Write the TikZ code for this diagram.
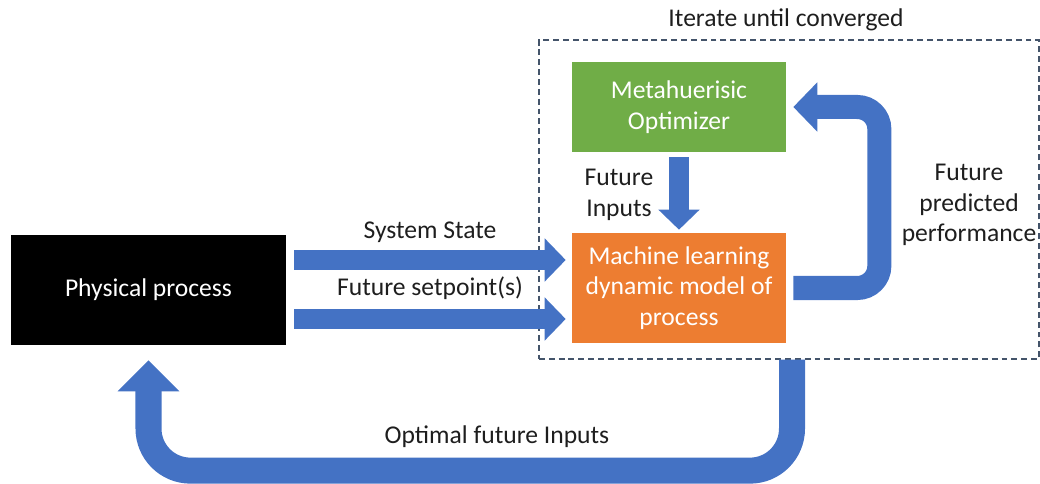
\documentclass[tikz,border=0pt]{standalone}
\usepackage{fontspec}
\setmainfont{Carlito}
\usetikzlibrary{arrows.meta}
\definecolor{officeblue}{HTML}{4472C4}
\definecolor{officegreen}{HTML}{70AD47}
\definecolor{officeorange}{HTML}{ED7D31}
\definecolor{dashblue}{HTML}{44546A}
\definecolor{textgray}{HTML}{1E1E1E}
\begin{document}
\begin{tikzpicture}
[
x=0.025cm, y=-0.025cm,
font=\fontsize{18.2}{21.6}\selectfont,
blackbox/.style={rectangle, fill=black, text=white, minimum width=6.875cm, minimum height=2.75cm, inner sep=0},
greenbox/.style={rectangle, fill=officegreen, text=white, minimum width=5.35cm, minimum height=2.25cm, inner sep=0, align=center},
orangebox/.style={rectangle, fill=officeorange, text=white, minimum width=5.35cm, minimum height=2.75cm, inner sep=0, align=center},
iteratebox/.style={rectangle, draw=dashblue, line width=0.85pt, dash pattern=on 4.2pt off 2.8pt, minimum width=12.5cm, minimum height=7.975cm, inner sep=0},
flowlabel/.style={text=textgray, align=center, inner sep=0},
bluearrow/.style={draw=officeblue, line width=0.5cm, -{Triangle[width=1.05cm, length=0.525cm]}}
]
\useasboundingbox (0,0) rectangle (1040,484);
%Nodes
\node[blackbox] at(148.5,290)	(phys) {Physical process};
\node[greenbox] at(679,107)	(opt) {Metahuerisic\\Optimizer};
\node[orangebox] at(679,288)	(model) {Machine learning\\dynamic model of\\process};
\node[iteratebox] at(789,199.5)	(loop) {};
\node[flowlabel]	(iter) at(786,20) {Iterate until converged};
\node[flowlabel]	(state) at(430,232) {System State};
\node[flowlabel]	(setp) at(430,288) {Future setpoint(s)};
\node[flowlabel]	(fin) at(619,195) {Future\\Inputs};
\node[flowlabel]	(perf) at(969,205) {Future\\predicted\\performance};
\node[flowlabel]	(optin) at(497,437) {Optimal future Inputs};
%Arrows
\coordinate (statein) at ([yshift=0.75cm]phys.east);
\coordinate (setpin) at ([yshift=-0.725cm]phys.east);
\coordinate (perfturn) at ([xshift=2.325cm]opt.east);
\draw[bluearrow, shorten <=0.2cm, shorten >=0.15cm] (statein) -- (statein -| model.west);
\draw[bluearrow, shorten <=0.2cm, shorten >=0.15cm] (setpin) -- (setpin -| model.west);
\draw[bluearrow, -{Triangle[width=1.0cm, length=0.5cm]}, shorten <=0.125cm, shorten >=0.075cm] (opt.south) -- (model.north);
\draw[bluearrow, line width=0.6cm, -{Triangle[width=1.2cm, length=0.6cm]}, rounded corners=0.55cm, shorten <=0.175cm, shorten >=0.175cm] (model.east) -| (perfturn) -- (opt.east);
\draw[bluearrow, line width=0.65cm, -{Triangle[width=1.5cm, length=0.775cm]}, rounded corners=1.05cm, shorten >=0.375cm] ([xshift=0.075cm]loop.south) -- ++(0,111) -| (phys.south);
\end{tikzpicture}
\end{document}
